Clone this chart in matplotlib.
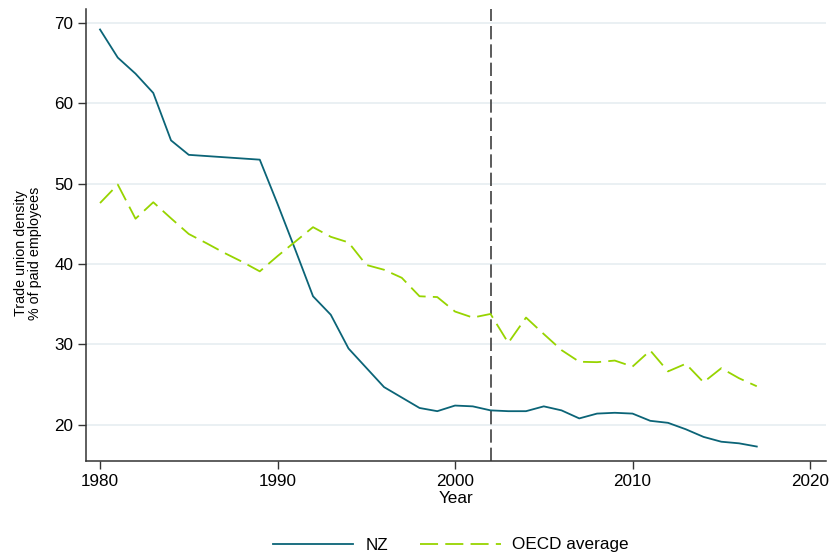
import matplotlib
matplotlib.use('Agg')
import matplotlib.pyplot as plt

plt.rcParams['font.family'] = ['Liberation Sans', 'DejaVu Sans']

years = list(range(1980, 2018))
nz = [69.2, 65.7, 63.7, 61.3, 55.4, 53.6, 53.45, 53.3, 53.15, 53.0,
      47.5, 41.8, 36.0, 33.7, 29.5, 27.1, 24.7, 23.4, 22.1, 21.7,
      22.4, 22.3, 21.8, 21.7, 21.7, 22.3, 21.8, 20.8, 21.4, 21.5,
      21.4, 20.5, 20.25, 19.45, 18.5, 17.9, 17.7, 17.3]
oecd = [47.6, 49.9, 45.65, 47.7, 45.7, 43.75, 42.6, 41.4, 40.3, 39.1,
        41.0, 42.8, 44.6, 43.4, 42.7, 39.9, 39.3, 38.3, 36.0, 35.9,
        34.1, 33.35, 33.8, 30.2, 33.35, 31.3, 29.3, 27.85, 27.8, 28.0,
        27.25, 29.25, 26.65, 27.6, 25.3, 27.05, 25.8, 24.8]
series_names = ['NZ', 'OECD average']
marker_year = 2002
xticks = [1980, 1990, 2000, 2010, 2020]
yticks = [20, 30, 40, 50, 60, 70]

fig = plt.figure(figsize=(8.3, 5.59), dpi=100)
ax = fig.add_axes([86/830, 1 - 461/559, 740/830, 452/559])

# light horizontal grid
for y in yticks:
    ax.axhline(y, color='#eaf0f3', lw=1.4, zorder=0)

ax.plot(years, nz, color='#0b6477', lw=1.3, label=series_names[0], zorder=3)
ax.plot(years, oecd, color='#97d400', lw=1.3, dashes=(10, 4),
        label=series_names[1], zorder=3)
ax.axvline(marker_year, color='#404040', lw=1.2, dashes=(8, 3), zorder=2)

ax.set_xlim(1979.21, 2020.9)
ax.set_ylim(15.5, 71.75)
ax.set_xticks(xticks)
ax.set_yticks(yticks)

for s in ['top', 'right']:
    ax.spines[s].set_visible(False)
for s in ['left', 'bottom']:
    ax.spines[s].set_color('#333333')
    ax.spines[s].set_linewidth(1.1)

ax.tick_params(axis='both', length=6, width=1.0, color='#333333',
               labelsize=12.3, pad=3)

ax.set_xlabel('Year', fontsize=12.3, labelpad=2)
ax.set_ylabel('Trade union density\n% of paid employees', fontsize=10.3,
              linespacing=1.0)
ax.yaxis.set_label_coords(-0.0595, 0.46)

fig.legend(loc='center', bbox_to_anchor=(451/830, 14/559), ncol=2,
           frameon=False, fontsize=12.3, handlelength=4.7,
           handletextpad=0.7, columnspacing=1.9)

fig.savefig('out.png', dpi=100)
